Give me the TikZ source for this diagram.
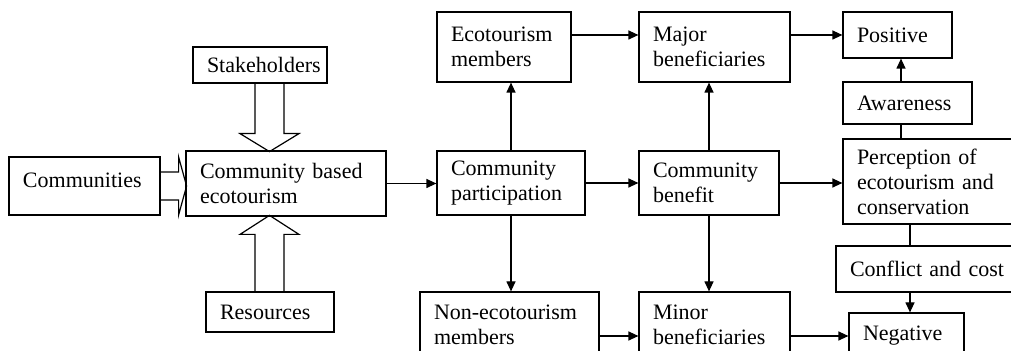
\documentclass[tikz,border=0pt]{standalone}
\usepackage{fontspec}
\setmainfont{Liberation Serif}
\usetikzlibrary{arrows.meta,calc}

\newcommand{\boxunit}{0.5pt}

\begin{document}
\begin{tikzpicture}[x=0.5pt,y=-0.5pt]
  \tikzset{
    every node/.style = {font=\fontsize{11}{12.5}\selectfont},
    box/.style 2 args = {draw, line width=0.6pt, inner xsep=7pt, align=left,
                         minimum width=#1*\boxunit, minimum height=#2*\boxunit,
                         text width=#1*\boxunit-14pt},
    connector/.style  = {line width=0.6pt, -{Triangle[length=5pt,width=4.5pt]}},
    hollow/.style     = {line width=0.6pt, line join=miter},
  }

  \useasboundingbox (0,0) rectangle (1011,351);
  \clip (0,0) rectangle (1011,351);

  % inputs
  \node [box={151}{58}, text depth=6pt] (comm) at (84.5,186) {Communities};
  \node [box={200}{65}] (cbe)   at (286,183.5) {Community based\\ecotourism};
  \node [box={134}{36}] (stake) at (260,65)    {Stakeholders};
  \node [box={128}{40}] (res)   at (270,312)   {Resources};

  % participation
  \node [box={134}{70}] (em)    at (504,47)    {Ecotourism\\members};
  \node [box={148}{64}] (cp)    at (511,183)   {Community\\participation};
  \node [box={179}{65}] (nem)   at (509.5,324.5) {Non-ecotourism\\members};

  % benefit
  \node [box={151}{70}] (mb)    at (714.5,47)  {Major\\beneficiaries};
  \node [box={140}{64}] (cb)    at (709,183)   {Community\\benefit};
  \node [box={151}{65}] (minor) at (714.5,324.5) {Minor\\beneficiaries};

  % perception
  \node [box={109}{46}] (pos)   at (897.5,35)  {Positive};
  \node [box={129}{42}] (aware) at (907.5,103) {Awareness};
  \node [box={177}{85}] (perc)  at (931.5,181.5) {Perception of\\ecotourism and\\conservation};
  \node [box={184}{46}] (conf)  at (928,269)   {Conflict and cost};
  \node [box={115}{46}] (neg)   at (906.5,336) {Negative};

  \coordinate (ax) at (901,0);
  \coordinate (cx) at (910,0);

  % hollow arrows into community based ecotourism
  \draw [hollow] (stake.south) ++(-5,0) -- ++(0,50) -- ++(-15,0) -- ++(29.5,18)
                 -- ++(29.5,-18) -- ++(-15,0) -- ++(0,-50);
  \draw [hollow] (res.north) ++(-15,0) -- ++(0,-57) -- ++(-15,0) -- ++(29.5,-19)
                 -- ++(29.5,19) -- ++(-15,0) -- ++(0,57);
  \draw [hollow] (comm.east) ++(0,-14) -- ++(18,0) -- ++(0,-15) -- ++(8,29)
                 -- ++(-8,29) -- ++(0,-15) -- ++(-18,0);

  % connectors
  \draw [connector] (cbe.east)   -- (cp.west |- cbe.east);
  \draw [connector] (cp.north)   -- (cp.north |- em.south);
  \draw [connector] (cp.south)   -- (cp.south |- nem.north);
  \draw [connector] (cp.east)    -- (cb.west |- cp.east);
  \draw [connector] (em.east |- pos)  -- (mb.west |- pos);
  \draw [connector] (nem.east |- neg) -- (minor.west |- neg);
  \draw [connector] (cb.north)   -- (cb.north |- mb.south);
  \draw [connector] (cb.south)   -- (cb.south |- minor.north);
  \draw [connector] (cb.east)    -- (perc.west |- cb.east);
  \draw [connector] (mb.east |- pos)  -- (pos.west);
  \draw [connector] (minor.east |- neg) -- (neg.west);
  \draw [connector] (aware.north -| ax) -- (pos.south -| ax);
  \draw [line width=0.6pt] (perc.north -| ax) -- (aware.south -| ax);
  \draw [line width=0.6pt] (perc.south -| cx) -- (conf.north -| cx);
  \draw [connector] (conf.south -| cx) -- (neg.north -| cx);
\end{tikzpicture}
\end{document}
